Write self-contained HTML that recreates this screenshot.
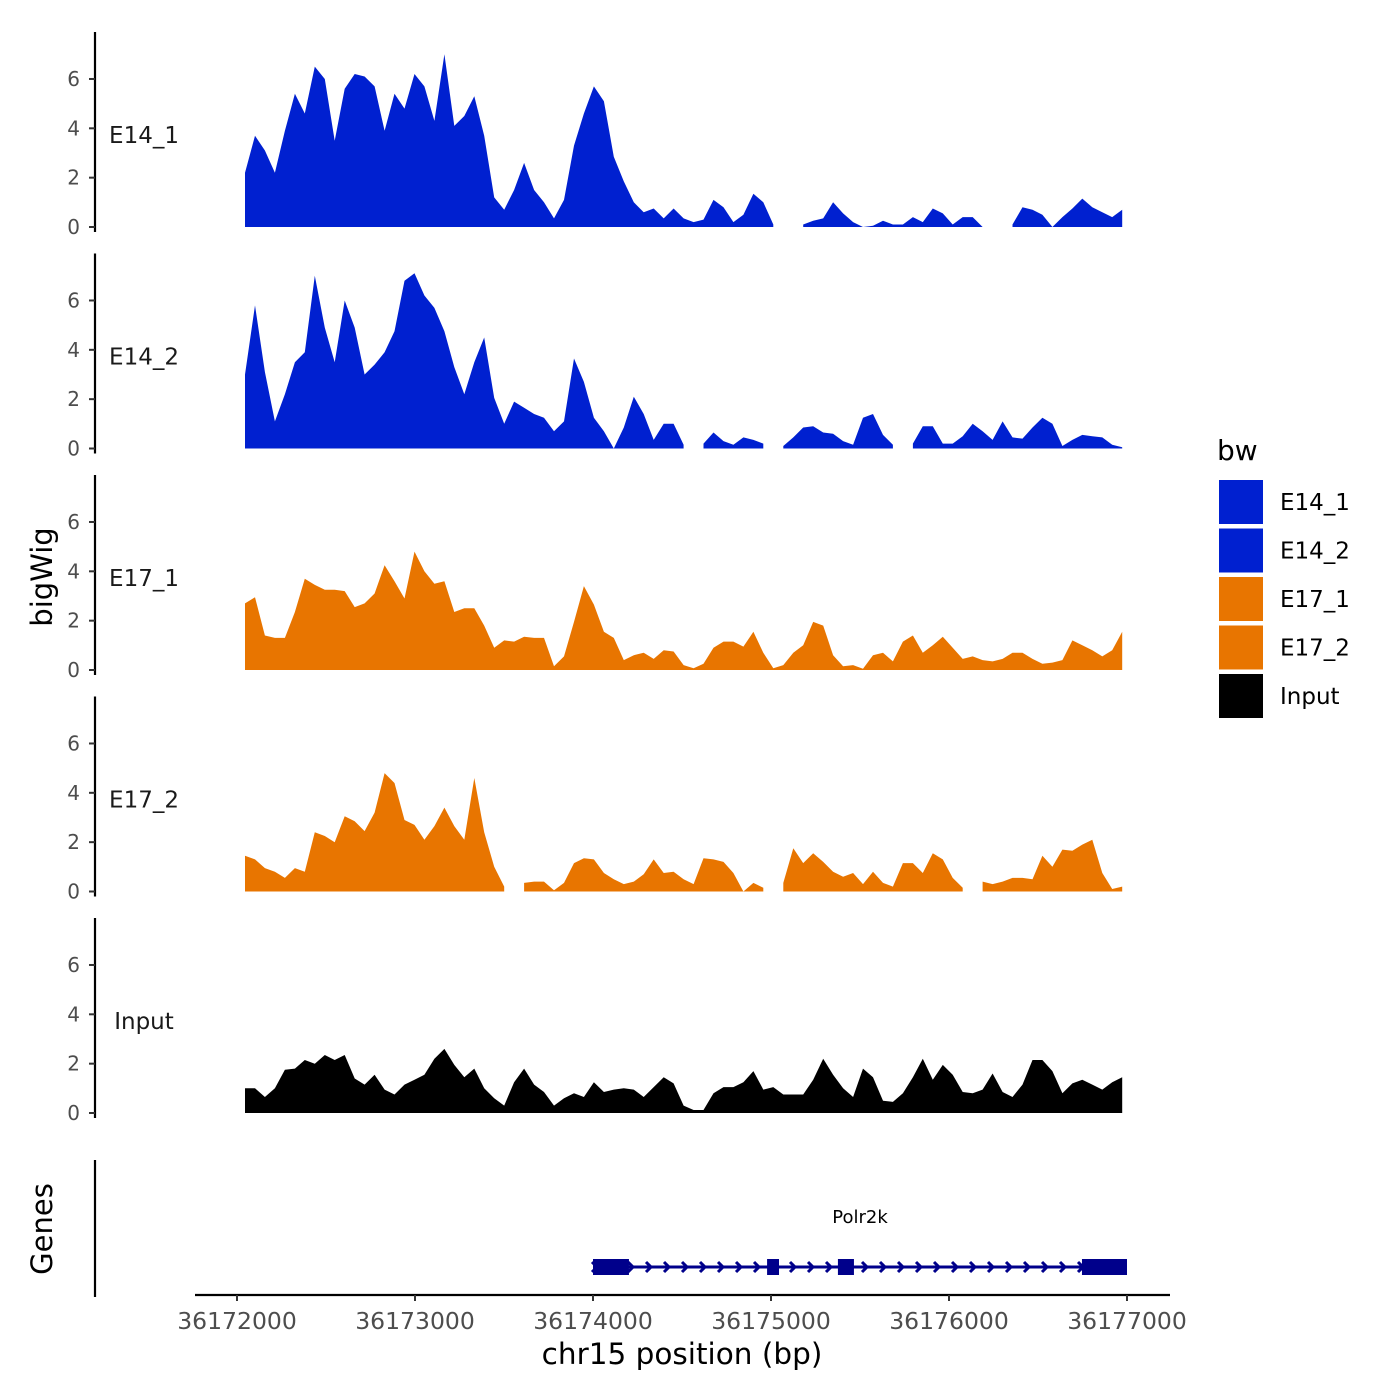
<!DOCTYPE html>
<html><head><meta charset="utf-8"><style>
body{margin:0;background:#fff}
svg{display:block;font-family:"DejaVu Sans","Liberation Sans",sans-serif}
</style></head><body>
<svg id="chart" width="1400" height="1400" viewBox="0 0 1400 1400">
<g id="axes"></g>
<g id="tracks"></g>
<g id="genes"></g>
<g id="legend"></g>
</svg>
<script>
const trackNames=["E14_1","E14_2","E17_1","E17_2","Input"];
const trackColors=["#0020d0","#0020d0","#e87500","#e87500","#000000"];
const posStart=36172045, posStep=56;
const yTicks=[0,2,4,6];
const xTicks=[36172000,36173000,36174000,36175000,36176000,36177000];
const N=null;
const e14_1=[2.2,3.7,3.1,2.2,3.9,5.4,4.6,6.5,6.0,3.5,5.6,6.2,6.1,5.7,3.9,5.4,4.8,6.2,5.7,4.3,7.0,4.1,4.5,5.3,3.7,1.2,0.7,1.5,2.6,1.5,1.0,0.35,1.1,3.3,4.6,5.7,5.1,2.85,1.85,1.0,0.6,0.75,0.35,0.75,0.35,0.2,0.3,1.1,0.8,0.2,0.5,1.35,1.0,0.1,N,N,0.1,0.25,0.35,1.0,0.55,0.2,0,0.05,0.25,0.1,0.1,0.4,0.2,0.75,0.55,0.1,0.4,0.4,0,N,N,0.1,0.8,0.7,0.5,0,0.4,0.75,1.15,0.8,0.6,0.4,0.7];
const e14_2=[3.0,5.8,3.1,1.1,2.2,3.5,3.9,7.0,4.9,3.5,6.0,4.9,3.0,3.4,3.9,4.75,6.8,7.1,6.2,5.7,4.75,3.3,2.2,3.5,4.5,2.05,1.0,1.9,1.65,1.4,1.25,0.7,1.1,3.65,2.7,1.25,0.7,0,0.85,2.1,1.4,0.35,1.0,1.0,0.15,N,0.2,0.65,0.3,0.15,0.45,0.35,0.2,N,0.1,0.45,0.85,0.9,0.65,0.6,0.3,0.15,1.25,1.4,0.55,0.15,N,0.2,0.9,0.9,0.2,0.2,0.5,1.0,0.7,0.35,1.1,0.45,0.4,0.85,1.25,1.0,0.1,0.35,0.55,0.5,0.45,0.15,0.05];
const e17_1=[2.7,2.95,1.4,1.3,1.3,2.35,3.7,3.45,3.25,3.25,3.2,2.55,2.7,3.1,4.25,3.6,2.9,4.8,4.0,3.5,3.6,2.35,2.5,2.5,1.8,0.9,1.2,1.15,1.35,1.3,1.3,0.15,0.55,1.95,3.4,2.65,1.55,1.3,0.4,0.6,0.7,0.45,0.8,0.75,0.2,0.07,0.25,0.9,1.15,1.15,0.95,1.55,0.7,0.07,0.2,0.7,1.0,1.95,1.8,0.6,0.15,0.2,0.05,0.6,0.7,0.35,1.15,1.4,0.7,1.0,1.35,0.9,0.45,0.55,0.4,0.35,0.45,0.7,0.7,0.45,0.25,0.3,0.4,1.2,1.0,0.8,0.55,0.8,1.55];
const e17_2=[1.45,1.3,0.95,0.8,0.55,0.95,0.8,2.4,2.25,2.0,3.05,2.85,2.45,3.2,4.8,4.4,2.9,2.7,2.1,2.65,3.4,2.65,2.1,4.6,2.4,1.0,0.2,N,0.35,0.4,0.4,0.05,0.35,1.15,1.35,1.3,0.75,0.5,0.3,0.4,0.7,1.3,0.75,0.8,0.5,0.3,1.35,1.3,1.2,0.75,0,0.35,0.15,N,0.35,1.75,1.15,1.55,1.2,0.8,0.6,0.75,0.3,0.8,0.35,0.2,1.15,1.15,0.75,1.55,1.3,0.55,0.15,N,0.4,0.3,0.4,0.55,0.55,0.5,1.45,1.0,1.7,1.65,1.9,2.1,0.75,0.1,0.2];
const input=[1.0,1.0,0.65,1.0,1.75,1.8,2.15,2.0,2.35,2.15,2.35,1.4,1.15,1.55,0.95,0.75,1.15,1.35,1.55,2.2,2.6,1.95,1.45,1.8,1.0,0.6,0.3,1.25,1.8,1.15,0.85,0.3,0.6,0.8,0.65,1.25,0.85,0.95,1.0,0.95,0.65,1.05,1.45,1.2,0.3,0.12,0.12,0.8,1.05,1.05,1.25,1.7,0.95,1.05,0.75,0.75,0.75,1.35,2.2,1.55,1.0,0.65,1.8,1.45,0.5,0.45,0.8,1.45,2.2,1.35,1.95,1.55,0.85,0.8,0.95,1.6,0.85,0.65,1.15,2.15,2.15,1.7,0.8,1.2,1.35,1.15,0.95,1.25,1.45];
const trackValues=[e14_1,e14_2,e17_1,e17_2,input];
const geneName="Polr2k";
const geneStart=36174000, geneEnd=36177000;
const exonStarts=[36174000,36174978,36175376,36176747];
const exonEnds=[36174202,36175045,36175466,36177000];

const NS="http://www.w3.org/2000/svg";
function mk(tag,attrs,parent,text){const e=document.createElementNS(NS,tag);for(const k in attrs)e.setAttribute(k,attrs[k]);if(text!==undefined)e.textContent=text;parent.appendChild(e);return e;}
const xScale=bp=>237+(bp-36172000)*0.178;
const zeroY=k=>227+k*221.5;
const yScale=(k,v)=>zeroY(k)-v*24.67;
const axes=document.getElementById('axes'),tracks=document.getElementById('tracks'),genes=document.getElementById('genes'),legend=document.getElementById('legend');

trackNames.forEach((name,k)=>{
  const g=mk('g',{},tracks);
  
  
  const vals=trackValues[k];
  let seg=[];
  const flush=()=>{ if(seg.length){ let d='M'+seg[0][0]+','+zeroY(k); seg.forEach(p=>d+='L'+p[0]+','+p[1]); d+='L'+seg[seg.length-1][0]+','+zeroY(k)+'Z';
      const p=mk('path',{d:d,fill:trackColors[k]},g);
      
      
      seg=[];}};
  vals.forEach((v,i)=>{ if(v===null){flush();return;} seg.push([xScale(posStart+i*posStep).toFixed(1),yScale(k,v).toFixed(1)]); });
  flush();
  const ay=mk('line',{x1:95,x2:95,y1:zeroY(k)-195,y2:zeroY(k)+5,stroke:'#000','stroke-width':2.2},axes);
  
  
  yTicks.forEach(t=>{
    const y=yScale(k,t);
    const tl=mk('line',{x1:89,x2:95,y1:y,y2:y,stroke:'#333','stroke-width':2},axes);
    
    
    const tt=mk('text',{x:80,y:y+7,'text-anchor':'end','font-size':20,fill:'#4d4d4d'},axes,String(t));
    
    
  });
  const lb=mk('text',{x:144,y:zeroY(k)-84,'text-anchor':'middle','font-size':23,fill:'#1a1a1a'},axes,name);
  
  
});

const yt=mk('text',{transform:'translate(52,577) rotate(-90)','text-anchor':'middle','font-size':29,fill:'#000'},axes,'bigWig');


const gt=mk('text',{transform:'translate(52,1229) rotate(-90)','text-anchor':'middle','font-size':29,fill:'#000'},axes,'Genes');


const ga=mk('line',{x1:95,x2:95,y1:1160,y2:1297,stroke:'#000','stroke-width':2.2},axes);



const xa=mk('line',{x1:195,x2:1170,y1:1295,y2:1295,stroke:'#000','stroke-width':2.2},axes);


xTicks.forEach(t=>{
  const x=xScale(t);
  const tl=mk('line',{x1:x,x2:x,y1:1295,y2:1301,stroke:'#333','stroke-width':2},axes);
  
  
  const tt=mk('text',{x:x,y:1329,'text-anchor':'middle','font-size':23.5,fill:'#4d4d4d'},axes,String(t));
  
  
});
const xt=mk('text',{x:682,y:1364,'text-anchor':'middle','font-size':29.5,fill:'#000'},axes,'chr15 position (bp)');



const gy=1267;
const gl=mk('line',{x1:xScale(geneStart),x2:xScale(geneEnd),y1:gy,y2:gy,stroke:'#00008b','stroke-width':3},genes);


for(let x=xScale(geneStart)+2;x<xScale(geneEnd)-10;x+=18){
  const ch=mk('path',{d:`M${x-3},${gy-5}L${x+2},${gy}L${x-3},${gy+5}`,fill:'none',stroke:'#00008b','stroke-width':3},genes);
  
  
}
exonStarts.forEach((s,i)=>{
  const r=mk('rect',{x:xScale(s),y:gy-8,width:xScale(exonEnds[i])-xScale(s),height:16,fill:'#00008b'},genes);
  
  
});
const gn=mk('text',{x:860,y:1223,'text-anchor':'middle','font-size':18,fill:'#000'},genes,geneName);



const lt=mk('text',{x:1217,y:460,'font-size':28,fill:'#000'},legend,'bw');


trackNames.forEach((name,k)=>{
  const y=480+k*48.5;
  const r=mk('rect',{x:1219,y:y,width:44,height:44,fill:trackColors[k]},legend);
  
  
  const t=mk('text',{x:1280,y:y+30,'font-size':23,fill:'#000'},legend,name);
  
  
});
</script>
</body></html>
